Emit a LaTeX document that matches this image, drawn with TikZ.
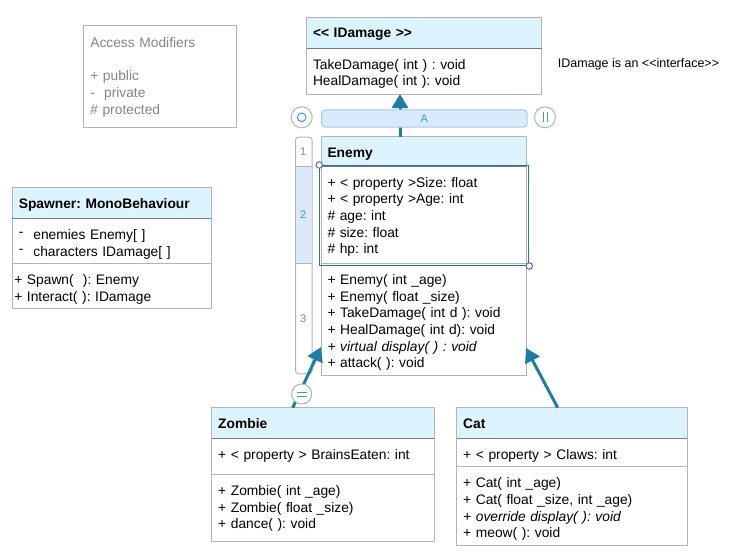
\documentclass[tikz,border=0pt]{standalone}
\usepackage{fontspec}
\setmainfont{Liberation Sans}[Ligatures=TeXOff]
\usetikzlibrary{arrows.meta}
\definecolor{headblue}{HTML}{DCF4FD}
\definecolor{boxgray}{HTML}{B4B4B4}
\definecolor{sepgray}{HTML}{7A7A7A}
\definecolor{inhblue}{HTML}{1F7DA5}
\definecolor{barblue}{HTML}{DAE9FB}
\definecolor{barline}{HTML}{A8C7EC}
\definecolor{uiblue}{HTML}{3A96EE}
\definecolor{selblue}{HTML}{2D6DB5}
\definecolor{handleline}{HTML}{5A68A8}
\definecolor{notegray}{HTML}{858585}
\begin{document}
\frenchspacing
\begin{tikzpicture}[x=1pt, y=-1pt,
  part/.style={draw=boxgray, line width=1pt, anchor=north west, outer sep=0pt, inner xsep=6.5pt, inner ysep=0pt, align=left, text height=21pt, font=\fontsize{13.8}{16.7}\selectfont},
  head/.style={part, fill=headblue, text height=20.5pt, font=\fontsize{13.8}{16.7}\selectfont\bfseries},
  inh/.style={draw=inhblue, line width=3pt, -{Triangle[length=14pt,width=16pt]}},
  ui/.style={circle, draw=boxgray, fill=white, minimum size=21pt, inner sep=0pt, line width=1pt},
  sidenum/.style={text=notegray, font=\fontsize{11}{13}\selectfont, inner sep=0pt},
  handle/.style={circle, draw=handleline, fill=white, minimum size=6.5pt, inner sep=0pt, line width=1pt},
]
\fill[white] (0,0) rectangle (739,558);
\useasboundingbox (0,0) rectangle (739,558);

\node[part, text=notegray, text width=139pt, text height=22.5pt, text depth=79.8pt, inner xsep=7pt] (access) at (83.3,25) {Access Modifiers\\[16.7pt]+ public\\- \ private\\\# protected};

\node[head, text width=222pt, text depth=10.5pt] (idmgh) at (306.5,17) {<< IDamage >>};
\node[part, text width=222pt, text depth=25pt] (idmgm) at (306.5,48) {TakeDamage( int ) : void\\HealDamage( int ): void};
\draw[sepgray, line width=1pt] (idmgh.south west) -- (idmgh.south east);
\node[anchor=west, inner sep=0pt, font=\fontsize{12.5}{15}\selectfont] (note) at (557.7,64) {IDamage is an <<interface>>};

\node[head, text width=192pt, text depth=8.8pt] (enemyh) at (321,136.7) {Enemy};
\node[part, text width=192pt, text depth=76.3pt] (enemya) at (321,166) {+ < property >Size: float\\+ < property >Age: int\\\# age: int\\\# size: float\\\# hp: int};
\node[part, text width=192pt, text depth=90.7pt] (enemym) at (321,263.3) {+ Enemy( int \_age)\\+ Enemy( float \_size)\\+ TakeDamage( int d ): void\\+ HealDamage( int d): void\\\textit{+ virtual display( ) : void}\\+ attack( ): void};
\draw[sepgray, line width=1pt] (enemyh.south west) -- (enemyh.south east);

\node[head, text width=185.7pt, text depth=10.1pt] (spawnh) at (12.3,187.7) {Spawner: MonoBehaviour};
\node[part, text width=185.7pt, text depth=24pt] (spawna) at (12.3,218.3) {\raisebox{3pt}{-}\hspace{10pt}enemies Enemy[ ]\\\raisebox{3pt}{-}\hspace{10pt}characters IDamage[ ]};
\node[part, text width=194.7pt, text depth=24pt, inner xsep=2pt] (spawnm) at (12.3,263.3) {+ Spawn(\ \ ): Enemy\\+ Interact( ): IDamage};
\draw[sepgray, line width=1pt] (spawnh.south west) -- (spawnh.south east);

\node[head, text width=209.6pt, text depth=10.1pt] (zombieh) at (211.7,407.7) {Zombie};
\node[part, text width=209.6pt, text depth=15pt] (zombiea) at (211.7,438.3) {+ < property > BrainsEaten: int};
\node[part, text width=209.6pt, text depth=45.7pt] (zombiem) at (211.7,474.3) {+ Zombie( int \_age)\\+ Zombie( float \_size)\\+ dance( ): void};
\draw[sepgray, line width=1pt] (zombieh.south west) -- (zombieh.south east);

\node[head, text width=217.6pt, text depth=10.1pt] (cath) at (456.7,407.7) {Cat};
\node[part, text width=217.6pt, text depth=7.4pt] (cata) at (456.7,438.3) {+ < property > Claws: int};
\node[part, text width=217.6pt, text depth=57.3pt] (catm) at (456.7,466.7) {+ Cat( int \_age)\\+ Cat( float \_size, int \_age)\\\textit{+ override display( ): void}\\+ meow( ): void};
\draw[sepgray, line width=1pt] (cath.south west) -- (cath.south east);

\draw[inh] ([xshift=79pt]enemyh.north west) -- ([xshift=93.5pt]idmgm.south west);
\draw[inh] ([xshift=101pt]cath.north west) -- ([yshift=27pt]enemym.south east);

\node[draw=barline, fill=barblue, rounded corners=4pt, line width=1pt, anchor=north west, minimum width=205.7pt, minimum height=17.4pt, inner sep=0pt, text=uiblue, font=\fontsize{11}{13}\selectfont] (abar) at (321,109.3) {A};
\node[ui] (ring) at (301.7,117.3) {};
\draw[uiblue, line width=1pt] (ring.center) circle[radius=4.3pt];
\node[ui] (pause) at (545,117.3) {};
\draw[uiblue, line width=1pt] ([xshift=-2pt,yshift=5pt]pause.center) -- ([xshift=-2pt,yshift=-5pt]pause.center)
  ([xshift=2pt,yshift=5pt]pause.center) -- ([xshift=2pt,yshift=-5pt]pause.center);

\node[draw=boxgray, fill=white, rounded corners=3pt, line width=1pt, anchor=north west, minimum width=16.7pt, minimum height=236.6pt, inner sep=0pt] (side) at (295,136.7) {};
\node[fill=barblue, anchor=north west, minimum width=15.7pt, minimum height=97.3pt, inner sep=0pt] (side2) at (295.5,166) {};
\draw[boxgray, line width=1pt] (side2.north west) -- (side2.north east) (side2.south west) -- (side2.south east);
\node[sidenum] (n1) at (303.3,151.7) {1};
\node[sidenum, text=uiblue] (n2) at (303.3,214.5) {2};
\node[sidenum] (n3) at (303.3,318.3) {3};

\draw[inh] ([xshift=81pt]zombieh.north west) -- ([yshift=28pt]enemym.south west);
\node[ui, minimum size=20pt] (equal) at (301.7,394) {};
\draw[uiblue, line width=1pt] ([xshift=-5pt,yshift=2pt]equal.center) -- ([xshift=5pt,yshift=2pt]equal.center)
  ([xshift=-5pt,yshift=-2pt]equal.center) -- ([xshift=5pt,yshift=-2pt]equal.center);

\node[draw=selblue, line width=1pt, anchor=north west, minimum width=209pt, minimum height=100pt, inner sep=0pt] (sel) at (319.3,165) {};
\node[handle] (h1) at (sel.north west) {};
\node[handle] (h2) at (sel.south east) {};
\end{tikzpicture}
\end{document}
